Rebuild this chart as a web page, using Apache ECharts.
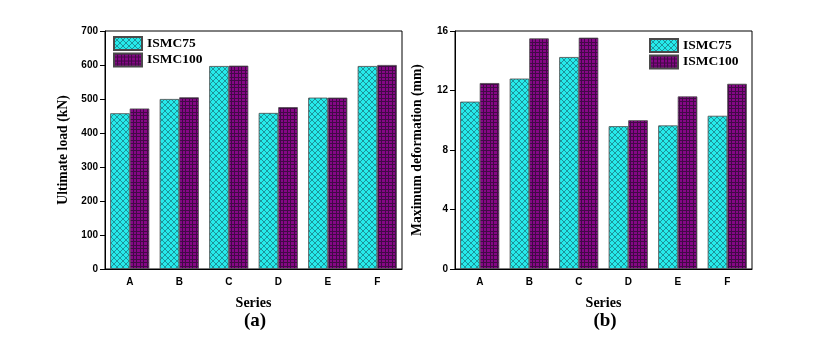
<!DOCTYPE html>
<html>
<head>
<meta charset="utf-8">
<script src="https://cdn.jsdelivr.net/npm/echarts@6/dist/echarts.min.js"></script>
<style>
  html, body { margin: 0; padding: 0; background: #fff; }
  #chart { width: 820px; height: 353px; }
</style>
</head>
<body>
<div id="chart"></div>
<script>
  // data
  var categories = ['A', 'B', 'C', 'D', 'E', 'F'];
  var seriesNames = ['ISMC75', 'ISMC100'];
  var loadISMC75 = [458, 500, 597, 459, 504, 597];
  var loadISMC100 = [472, 505, 598, 476, 504, 600];
  var defISMC75 = [11.25, 12.8, 14.25, 9.6, 9.65, 10.3];
  var defISMC100 = [12.5, 15.5, 15.55, 10.0, 11.6, 12.45];

  var serif = '"Liberation Serif", "Times New Roman", serif';
  var sans = '"Liberation Sans", Arial, sans-serif';

  // hatch patterns drawn on small canvases
  function crossHatch() {
    var c = document.createElement('canvas');
    c.width = 6; c.height = 6;
    var g = c.getContext('2d');
    g.fillStyle = '#26eaea';
    g.fillRect(0, 0, 6, 6);
    g.strokeStyle = '#1b7d85';
    g.lineWidth = 0.8;
    g.beginPath();
    g.moveTo(0, 0); g.lineTo(6, 6);
    g.moveTo(6, 0); g.lineTo(0, 6);
    g.stroke();
    return c;
  }
  function plaid() {
    var c = document.createElement('canvas');
    c.width = 7; c.height = 7;
    var g = c.getContext('2d');
    g.fillStyle = '#860786';
    g.fillRect(0, 0, 7, 7);
    g.fillStyle = '#420a46';
    g.fillRect(0, 0, 7, 1);
    g.fillRect(0, 3, 7, 1);
    g.fillRect(0, 0, 1, 7);
    g.fillRect(3, 0, 1, 7);
    return c;
  }
  var cyanFill = { image: crossHatch(), repeat: 'repeat' };
  var purpleFill = { image: plaid(), repeat: 'repeat' };

  function xAxisFor(grid) {
    return {
      type: 'category',
      gridIndex: grid,
      data: categories,
      name: 'Series',
      nameLocation: 'middle',
      nameGap: 27,
      nameTextStyle: { fontFamily: serif, fontWeight: 'bold', fontSize: 14, color: '#000' },
      axisLine: { lineStyle: { color: '#000', width: 1 } },
      axisTick: { alignWithLabel: true, length: 5, lineStyle: { color: '#000' } },
      axisLabel: { margin: 8, fontFamily: sans, fontWeight: 'bold', fontSize: 10, color: '#000' }
    };
  }
  function yAxisFor(grid, name, max, interval, gap) {
    return {
      type: 'value',
      gridIndex: grid,
      min: 0,
      max: max,
      interval: interval,
      name: name,
      nameLocation: 'middle',
      nameGap: gap,
      nameTextStyle: { fontFamily: serif, fontWeight: 'bold', fontSize: 13.7, color: '#000' },
      axisLine: { show: true, lineStyle: { color: '#000', width: 1 } },
      axisTick: { show: true, length: 5, lineStyle: { color: '#000' } },
      splitLine: { show: false },
      axisLabel: { margin: 7, fontFamily: sans, fontWeight: 'bold', fontSize: 10, color: '#000' }
    };
  }
  function barSeries(name, data, axis, fill) {
    return {
      name: name,
      type: 'bar',
      xAxisIndex: axis,
      yAxisIndex: axis,
      data: data,
      barGap: '0%',
      barCategoryGap: '21%',
      itemStyle: { color: fill, borderColor: '#4a4a4a', borderWidth: 0.8 }
    };
  }
  var legendText = { fontFamily: serif, fontWeight: 'bold', fontSize: 13.5, color: '#000' };

  var chart = echarts.init(document.getElementById('chart'), null, { renderer: 'canvas' });
  chart.setOption({
    animation: false,
    backgroundColor: '#fff',
    grid: [
      { left: 105, right: 418, top: 31, bottom: 84, show: true, borderColor: '#000', borderWidth: 1 },
      { left: 455, right: 68, top: 31, bottom: 84, show: true, borderColor: '#000', borderWidth: 1 }
    ],
    legend: [
      { data: seriesNames, orient: 'vertical', left: 113, top: 36, padding: 0, itemWidth: 28, itemHeight: 13,
        itemGap: 1.5, textStyle: legendText, icon: 'rect' },
      { data: seriesNames, orient: 'vertical', left: 649, top: 38, padding: 0, itemWidth: 28, itemHeight: 13,
        itemGap: 1.5, textStyle: legendText, icon: 'rect' }
    ],
    xAxis: [xAxisFor(0), xAxisFor(1)],
    yAxis: [
      yAxisFor(0, 'Ultimate load (kN)', 700, 100, 35),
      yAxisFor(1, 'Maximum deformation (mm)', 16, 4, 31)
    ],
    series: [
      barSeries(seriesNames[0], loadISMC75, 0, cyanFill),
      barSeries(seriesNames[1], loadISMC100, 0, purpleFill),
      barSeries(seriesNames[0], defISMC75, 1, cyanFill),
      barSeries(seriesNames[1], defISMC100, 1, purpleFill)
    ],
    graphic: [
      { type: 'text', x: 255, y: 321,
        style: { text: '(a)', align: 'center', verticalAlign: 'middle',
          font: 'bold 19px ' + serif, fill: '#000' } },
      { type: 'text', x: 605, y: 321,
        style: { text: '(b)', align: 'center', verticalAlign: 'middle',
          font: 'bold 19px ' + serif, fill: '#000' } }
    ]
  });
</script>
</body>
</html>
